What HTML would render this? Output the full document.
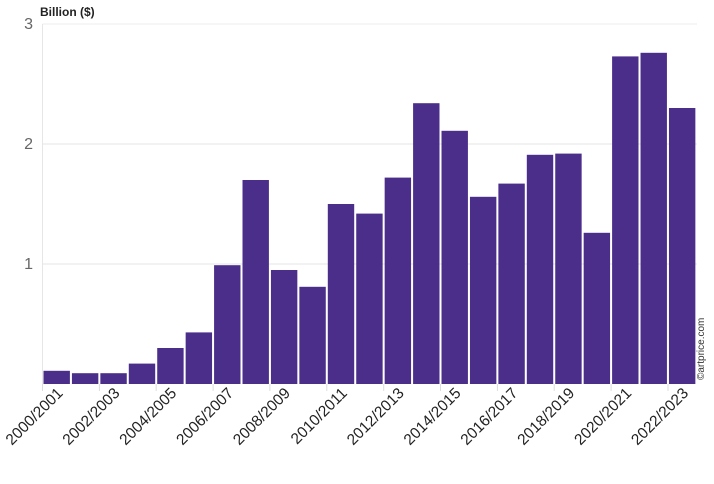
<!DOCTYPE html>
<html><head><style>body{margin:0;background:#fff}svg{display:block}</style></head><body>
<svg width="714" height="484" xmlns="http://www.w3.org/2000/svg" font-family="Liberation Sans, sans-serif">
<line x1="42.5" y1="24" x2="697" y2="24" stroke="#eee"/>
<line x1="42.5" y1="144" x2="697" y2="144" stroke="#e6e6e6"/>
<line x1="42.5" y1="264" x2="697" y2="264" stroke="#e6e6e6"/>
<line x1="42.5" y1="24" x2="42.5" y2="384" stroke="#e6e6e6"/>
<g stroke="#ddd">
<line x1="42.5" y1="384" x2="42.5" y2="391"/><line x1="99.4" y1="384" x2="99.4" y2="391"/><line x1="156.2" y1="384" x2="156.2" y2="391"/><line x1="213.1" y1="384" x2="213.1" y2="391"/><line x1="269.9" y1="384" x2="269.9" y2="391"/><line x1="326.8" y1="384" x2="326.8" y2="391"/><line x1="383.7" y1="384" x2="383.7" y2="391"/><line x1="440.5" y1="384" x2="440.5" y2="391"/><line x1="497.4" y1="384" x2="497.4" y2="391"/><line x1="554.2" y1="384" x2="554.2" y2="391"/><line x1="611.1" y1="384" x2="611.1" y2="391"/><line x1="668" y1="384" x2="668" y2="391"/>
</g>
<text x="40" y="16" font-size="12" font-weight="bold" fill="#222">Billion ($)</text>
<text x="33" y="29" font-size="16" fill="#666" text-anchor="end">3</text>
<text x="33" y="149" font-size="16" fill="#666" text-anchor="end">2</text>
<text x="33" y="269" font-size="16" fill="#666" text-anchor="end">1</text>
<g fill="#4b2d8a">
<rect x="43.5" y="370.8" width="26.4" height="13.2"/>
<rect x="71.93" y="373.2" width="26.4" height="10.8"/>
<rect x="100.36" y="373.2" width="26.4" height="10.8"/>
<rect x="128.79" y="363.6" width="26.4" height="20.4"/>
<rect x="157.22" y="348" width="26.4" height="36"/>
<rect x="185.65" y="332.4" width="26.4" height="51.6"/>
<rect x="214.08" y="265.2" width="26.4" height="118.8"/>
<rect x="242.51" y="180" width="26.4" height="204"/>
<rect x="270.94" y="270" width="26.4" height="114"/>
<rect x="299.37" y="286.8" width="26.4" height="97.2"/>
<rect x="327.8" y="204" width="26.4" height="180"/>
<rect x="356.23" y="213.6" width="26.4" height="170.4"/>
<rect x="384.66" y="177.6" width="26.4" height="206.4"/>
<rect x="413.09" y="103.2" width="26.4" height="280.8"/>
<rect x="441.52" y="130.8" width="26.4" height="253.2"/>
<rect x="469.95" y="196.8" width="26.4" height="187.2"/>
<rect x="498.38" y="183.6" width="26.4" height="200.4"/>
<rect x="526.81" y="154.8" width="26.4" height="229.2"/>
<rect x="555.24" y="153.6" width="26.4" height="230.4"/>
<rect x="583.67" y="232.8" width="26.4" height="151.2"/>
<rect x="612.1" y="56.4" width="26.4" height="327.6"/>
<rect x="640.53" y="52.8" width="26.4" height="331.2"/>
<rect x="668.96" y="108" width="26.4" height="276"/>
</g>
<g font-size="15.5" fill="#222" text-anchor="end">
<text transform="translate(63.7,394) rotate(-45)">2000/2001</text>
<text transform="translate(120.6,394) rotate(-45)">2002/2003</text>
<text transform="translate(177.4,394) rotate(-45)">2004/2005</text>
<text transform="translate(234.3,394) rotate(-45)">2006/2007</text>
<text transform="translate(291.1,394) rotate(-45)">2008/2009</text>
<text transform="translate(348,394) rotate(-45)">2010/2011</text>
<text transform="translate(404.9,394) rotate(-45)">2012/2013</text>
<text transform="translate(461.7,394) rotate(-45)">2014/2015</text>
<text transform="translate(518.6,394) rotate(-45)">2016/2017</text>
<text transform="translate(575.4,394) rotate(-45)">2018/2019</text>
<text transform="translate(632.3,394) rotate(-45)">2020/2021</text>
<text transform="translate(689.2,394) rotate(-45)">2022/2023</text>
</g>
<text transform="translate(704,380) rotate(-90)" font-size="10" fill="#333">©artprice.com</text>
</svg>
</body></html>
